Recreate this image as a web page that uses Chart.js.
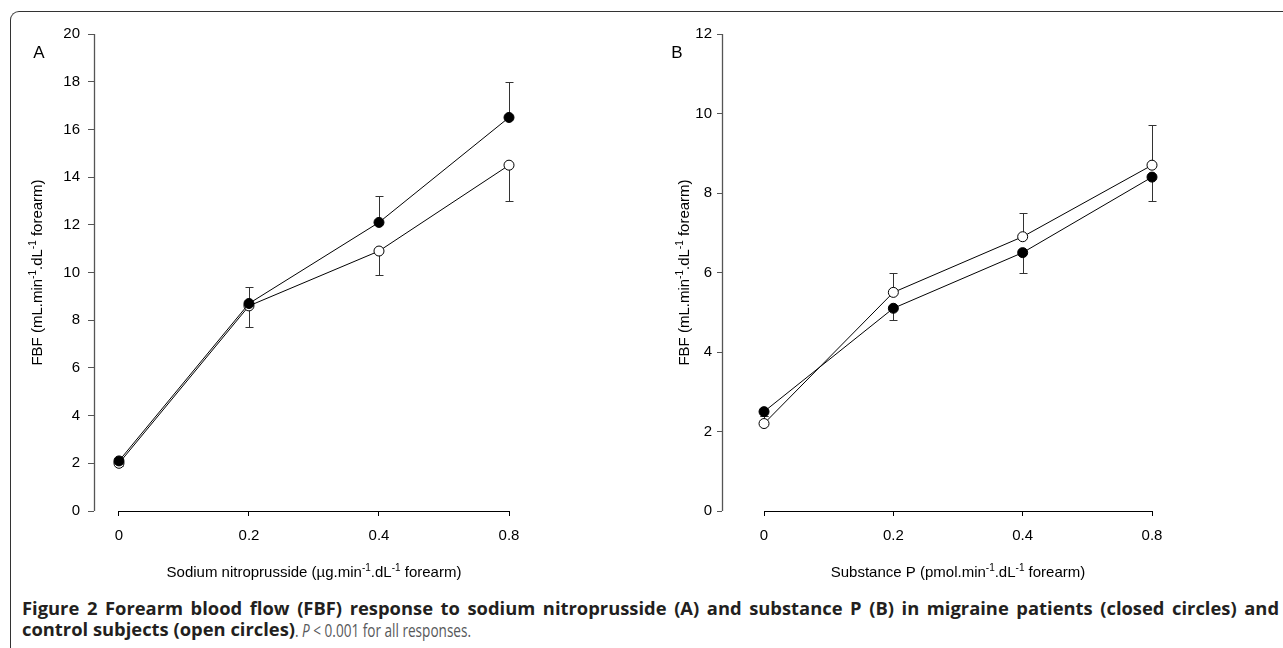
<!DOCTYPE html>
<html><head><meta charset="utf-8">
<script src="https://cdn.jsdelivr.net/npm/chart.js@4/dist/chart.umd.min.js"></script>
<style>
html,body{margin:0;padding:0;background:#fff;width:1283px;height:648px;overflow:hidden}
#frame{position:absolute;left:10px;top:11px;width:1300px;height:700px;border-left:1px solid #333;border-top:1px solid #333;border-top-left-radius:9px}
#wa{position:absolute;left:0;top:0;width:640px;height:590px}
#wb{position:absolute;left:640px;top:0;width:643px;height:590px}
.cap{position:absolute;font-family:"Open Sans",sans-serif;font-size:17px;color:#231f20;white-space:nowrap;transform-origin:0 0;line-height:18px;font-weight:700}
.cap.n{color:#58595b;font-weight:400;font-size:18px}
</style>
</head><body>
<div id="frame"></div>
<div id="wa"><canvas id="ca" width="640" height="590"></canvas></div>
<div id="wb"><canvas id="cb" width="643" height="590"></canvas></div>
<div class="cap" id="cap1" style="left:22px;top:600px">Figure 2 Forearm blood flow (FBF) response to sodium nitroprusside (A) and substance P (B) in migraine patients (closed circles) and</div>
<div class="cap" id="cap2b" style="left:22px;top:621px">control subjects (open circles)</div>
<div class="cap n" id="cap2n" style="left:295px;top:621px">. <i>P</i> &lt; 0.001 for all responses.</div>
<script>
// ---- data ----
const doseLabels = ['0', '0.2', '0.4', '0.8'];
// Panel A: sodium nitroprusside
const snpMigraine = [2.1, 8.7, 12.1, 16.5];
const snpMigraineErr = [0.1, 0.7, 1.1, 1.5];   // drawn upward
const snpControl = [2.0, 8.6, 10.9, 14.5];
const snpControlErr = [0.1, 0.9, 1.0, 1.5];    // drawn downward
// Panel B: substance P
const spMigraine = [2.5, 5.1, 6.5, 8.4];
const spMigraineErr = [0.1, 0.3, 0.5, 0.6];    // drawn downward
const spControl = [2.2, 5.5, 6.9, 8.7];
const spControlErr = [0.2, 0.5, 0.6, 1.0];     // drawn upward
const yTicksA = [0, 20, 2];
const yTicksB = [0, 12, 2];

const TICK_FONT = {family: '"Liberation Sans Narrow", "Liberation Sans", Arial, sans-serif', size: 15};
const TITLE_FAMILY = '"Liberation Sans", Arial, sans-serif';

function pts(arr){ return arr.map((v,i)=>({x:i, y:v})); }

function drawRich(ctx, segs, cx, cy, rot){
  ctx.save();
  ctx.translate(cx, cy);
  if (rot) ctx.rotate(-Math.PI/2);
  ctx.fillStyle = '#000';
  ctx.textBaseline = 'alphabetic';
  ctx.textAlign = 'left';
  let w = 0;
  segs.forEach(s=>{ ctx.font = (s.sup?'10px ':'15px ') + TITLE_FAMILY; w += ctx.measureText(s.t).width; });
  let x = -w/2;
  segs.forEach(s=>{
    ctx.font = (s.sup?'10px ':'15px ') + TITLE_FAMILY;
    ctx.fillText(s.t, x, s.sup ? -1 : 5);
    x += ctx.measureText(s.t).width;
  });
  ctx.restore();
}

const decorPlugin = {
  id: 'decor',
  beforeDatasetsDraw(chart, args, o){
    const {ctx, scales:{x, y}} = chart;
    ctx.save();
    const ax = Math.round(y.right) + 0.5;
    ctx.strokeStyle = '#555'; ctx.lineWidth = 1.3;
    ctx.beginPath(); ctx.moveTo(ax, y.getPixelForValue(y.min)); ctx.lineTo(ax, y.getPixelForValue(y.max)); ctx.stroke();
    const ay = Math.round(y.getPixelForValue(0)) + 0.5;
    ctx.strokeStyle = '#000'; ctx.lineWidth = 1;
    ctx.beginPath(); ctx.moveTo(x.getPixelForValue(0), ay); ctx.lineTo(x.getPixelForValue(doseLabels.length-1), ay); ctx.stroke();
    ctx.strokeStyle = '#333'; ctx.lineWidth = 1;
    chart.data.datasets.forEach(ds=>{
      ds.data.forEach((p,i)=>{
        const e = ds.err[i] * ds.errDir;
        const px = Math.round(x.getPixelForValue(p.x)) + 0.5;
        const y0 = y.getPixelForValue(p.y), y1 = Math.round(y.getPixelForValue(p.y + e)) + 0.5;
        ctx.beginPath(); ctx.moveTo(px, y0); ctx.lineTo(px, y1);
        ctx.moveTo(px - 4, y1); ctx.lineTo(px + 4, y1); ctx.stroke();
      });
    });
    ctx.restore();
  },
  afterDraw(chart, args, o){
    const {ctx, scales:{x, y}} = chart;
    const cx = (x.getPixelForValue(0) + x.getPixelForValue(doseLabels.length-1)) / 2;
    drawRich(ctx, o.xTitle, cx, y.getPixelForValue(0) + 61, false);
    drawRich(ctx, o.yTitle, y.right - o.yTitleOff, (y.top + y.bottom)/2, true);
    ctx.save();
    ctx.font = '17px ' + TITLE_FAMILY; ctx.fillStyle = '#000'; ctx.textAlign = 'center'; ctx.textBaseline = 'middle';
    ctx.fillText(o.panel, o.panelX, 53);
    ctx.restore();
  }
};

function makeChart(id, mig, migErr, migDir, ctl, ctlErr, ctlDir, yT, cfg){
  return new Chart(document.getElementById(id), {
    type: 'line',
    data: {
      datasets: [
        {label:'Migraine patients', data: pts(mig), err: migErr, errDir: migDir, clip:false,
         borderColor:'#000', borderWidth:1, backgroundColor:'#000', pointBackgroundColor:'#000', pointBorderColor:'#000',
         pointRadius:5, pointBorderWidth:1, tension:0, fill:false},
        {label:'Control subjects', data: pts(ctl), err: ctlErr, errDir: ctlDir, clip:false,
         borderColor:'#000', borderWidth:1, backgroundColor:'#fff', pointBackgroundColor:'#fff', pointBorderColor:'#000',
         pointRadius:5, pointBorderWidth:1, tension:0, fill:false}
      ]
    },
    options: {
      responsive:false, animation:false, devicePixelRatio:1,
      layout: {padding: {top:34, right:cfg.right, left:0, bottom:0}},
      plugins: {legend:{display:false}, tooltip:{enabled:false},
        decor: {xTitle: cfg.xTitle, yTitle: cfg.yTitle, yTitleOff: cfg.yTitleOff, panel: cfg.panel, panelX: cfg.panelX}},
      scales: {
        x: {type:'linear', min: cfg.xmin, max: doseLabels.length-1,
            afterBuildTicks: s=>{ s.ticks = doseLabels.map((_,i)=>({value:i})); },
            afterFit: s=>{ s.height = 79; },
            border:{display:false},
            grid:{display:true, drawOnChartArea:false, drawTicks:true, tickLength:5, color:'#000'},
            ticks:{callback:(v)=>doseLabels[v], padding:11, font:TICK_FONT, color:'#000', maxRotation:0, autoSkip:false}},
        y: {type:'linear', min: yT[0], max: yT[1],
            afterFit: s=>{ s.width = cfg.yWidth; },
            border:{display:false},
            grid:{display:true, drawOnChartArea:false, drawTicks:true, tickLength:cfg.tickLen, color:'#555'},
            ticks:{stepSize: yT[2], padding: cfg.tickPad, font:TICK_FONT, color:'#000'}}
      }
    },
    plugins: [decorPlugin]
  });
}

const yTitle = [{t:'FBF (mL.min'},{t:'-1',sup:true},{t:'.dL'},{t:'-1',sup:true},{t:' forearm)'}];
makeChart('ca', snpMigraine, snpMigraineErr, 1, snpControl, snpControlErr, -1, yTicksA, {
  right:131, xmin:-0.192, yWidth:94, tickLen:6, tickPad:8, yTitleOff:57, panel:'A', panelX:39,
  xTitle:[{t:'Sodium nitroprusside (\u00b5g.min'},{t:'-1',sup:true},{t:'.dL'},{t:'-1',sup:true},{t:' forearm)'}],
  yTitle: yTitle});
makeChart('cb', spMigraine, spMigraineErr, -1, spControl, spControlErr, 1, yTicksB, {
  right:131, xmin:-0.325, yWidth:82, tickLen:5, tickPad:5, yTitleOff:38, panel:'B', panelX:37,
  xTitle:[{t:'Substance P (pmol.min'},{t:'-1',sup:true},{t:'.dL'},{t:'-1',sup:true},{t:' forearm)'}],
  yTitle: yTitle});

// caption: condensed faces, first line justified to the full width
const c1 = document.getElementById('cap1'), c2b = document.getElementById('cap2b'), c2n = document.getElementById('cap2n');
const sb = 273 / c2b.getBoundingClientRect().width;
const sn = 176 / c2n.getBoundingClientRect().width;
c2b.style.transform = 'scaleX(' + sb + ')';
c2n.style.transform = 'scaleX(' + sn + ')';
const nat1 = c1.getBoundingClientRect().width * sb;
const nSpaces = (c1.textContent.match(/ /g) || []).length;
c1.style.transform = 'scaleX(' + sb + ')';
if (nat1 < 1257) c1.style.wordSpacing = ((1257 - nat1) / sb / nSpaces) + 'px';
else c1.style.transform = 'scaleX(' + (1257 / c1.getBoundingClientRect().width) + ')';
</script>
</body></html>
